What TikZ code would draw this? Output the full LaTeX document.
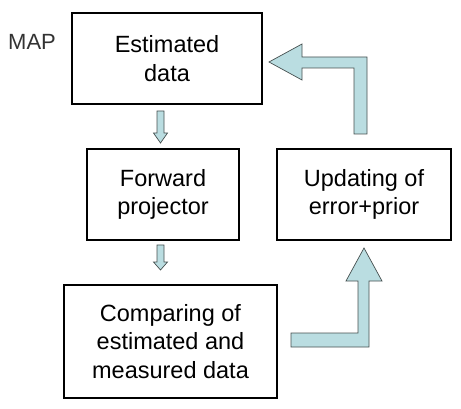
\documentclass[tikz,border=0pt]{standalone}
\usepackage{fontspec}
\setmainfont{Liberation Sans}
\definecolor{arrowfill}{RGB}{186,221,225}
\definecolor{arrowline}{RGB}{70,80,80}
\begin{document}
\begin{tikzpicture}[x=1pt,y=-1pt,
  box/.style={draw=black,line width=1.2pt,rectangle,inner sep=0pt,align=center,
    font=\fontsize{23.5}{28.5}\selectfont},
  blockarrow/.style={fill=arrowfill,draw=arrowline,line width=0.7pt,line join=miter}]
\useasboundingbox (0,0) rectangle (461,409);
\node[box,minimum width=190pt,minimum height=91pt] (est) at (167,58.5) {Estimated\\data};
\node[box,minimum width=152pt,minimum height=91pt] (fwd) at (163,194.5) {Forward\\projector};
\node[box,minimum width=174pt,minimum height=91pt] (upd) at (364,194.5) {Updating of\\error+prior};
\node[box,minimum width=213pt,minimum height=113pt] (cmp) at (170.5,341.5) {Comparing of\\estimated and\\measured data};
\node[anchor=base west,inner sep=0pt,text=black!80,font=\fontsize{22}{26}\selectfont] (map) at (8,50) {MAP};
% small down arrows
\draw[blockarrow] (157,111) -- (164,111) -- (164,133) -- (167.5,133) -- (160.5,143) -- (153.5,133) -- (157,133) -- cycle;
\draw[blockarrow] (157,245) -- (164,245) -- (164,262) -- (167.5,262) -- (160.5,270) -- (153.5,262) -- (157,262) -- cycle;
% bent arrow to Estimated data
\draw[blockarrow] (269,62) -- (302,44) -- (302,57) -- (367,57) -- (367,134) -- (354,134) -- (354,68) -- (302,68) -- (302,80) -- cycle;
% bent arrow to Updating
\draw[blockarrow] (291,333) -- (358,333) -- (358,281) -- (346,281) -- (364,248) -- (382,281) -- (369,281) -- (369,347) -- (291,347) -- cycle;
\end{tikzpicture}
\end{document}
